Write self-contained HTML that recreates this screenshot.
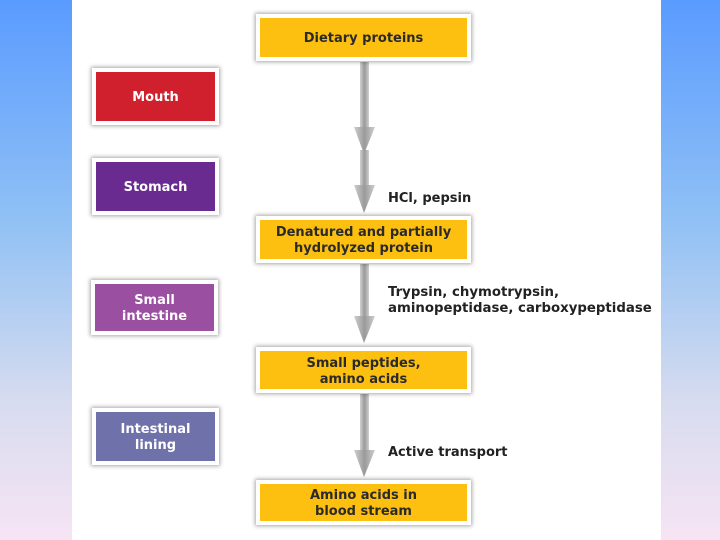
<!DOCTYPE html>
<html><head><style>
body{margin:0;width:720px;height:540px;overflow:hidden;background:linear-gradient(180deg,#5a9bff 0%,#8fc0f5 40%,#d8dcef 75%,#f6e4f4 100%);font-family:"DejaVu Sans","Liberation Sans",sans-serif;font-weight:bold;}
.panel{position:absolute;left:72px;top:0;width:589px;height:540px;background:#fff;}
.b{position:absolute;border:4px solid #fff;box-shadow:0 0 4px 1px rgba(0,0,0,.35);display:flex;align-items:center;justify-content:center;text-align:center;font-size:13px;line-height:16px;box-sizing:border-box;padding-top:3px;}
.y{background:#fdc010;color:#2a2a2a;left:256px;width:215px;}
.w{color:#fff;left:92px;width:127px;}
.l{position:absolute;left:388px;font-size:13px;color:#222;line-height:16px;}
</style></head><body>
<div class="panel"></div>
<svg width="720" height="540" style="position:absolute;left:0;top:0">
<defs><linearGradient id="g" x1="0" x2="1"><stop offset="0" stop-color="#d0d0d0"/><stop offset=".5" stop-color="#9a9a9a"/><stop offset="1" stop-color="#d0d0d0"/></linearGradient></defs>
<g fill="url(#g)">
<rect x="360" y="62" width="9" height="80"/><polygon points="354,127 375,127 364,154"/>
<rect x="360" y="150" width="9" height="50"/><polygon points="354,185 375,185 364,213"/>
<rect x="360" y="264" width="9" height="60"/><polygon points="354,316 375,316 364,343"/>
<rect x="360" y="394" width="9" height="64"/><polygon points="354,450 375,450 364,477"/>
</g></svg>
<div class="b y" style="top:14px;height:47px">Dietary proteins</div>
<div class="b w" style="top:68px;height:57px;background:#d0202e">Mouth</div>
<div class="b w" style="top:158px;height:57px;background:#6a2b90">Stomach</div>
<div class="b y" style="top:216px;height:47px">Denatured and partially<br>hydrolyzed protein</div>
<div class="b w" style="top:280px;height:55px;background:#9a4fa0;left:91px">Small<br>intestine</div>
<div class="b y" style="top:347px;height:46px">Small peptides,<br>amino acids</div>
<div class="b w" style="top:408px;height:57px;background:#6f71aa">Intestinal<br>lining</div>
<div class="b y" style="top:480px;height:45px">Amino acids in<br>blood stream</div>
<div class="l" style="top:191px">HCl, pepsin</div>
<div class="l" style="top:285px;font-size:13.3px">Trypsin, chymotrypsin,<br>aminopeptidase, carboxypeptidase</div>
<div class="l" style="top:445px">Active transport</div>
</body></html>
